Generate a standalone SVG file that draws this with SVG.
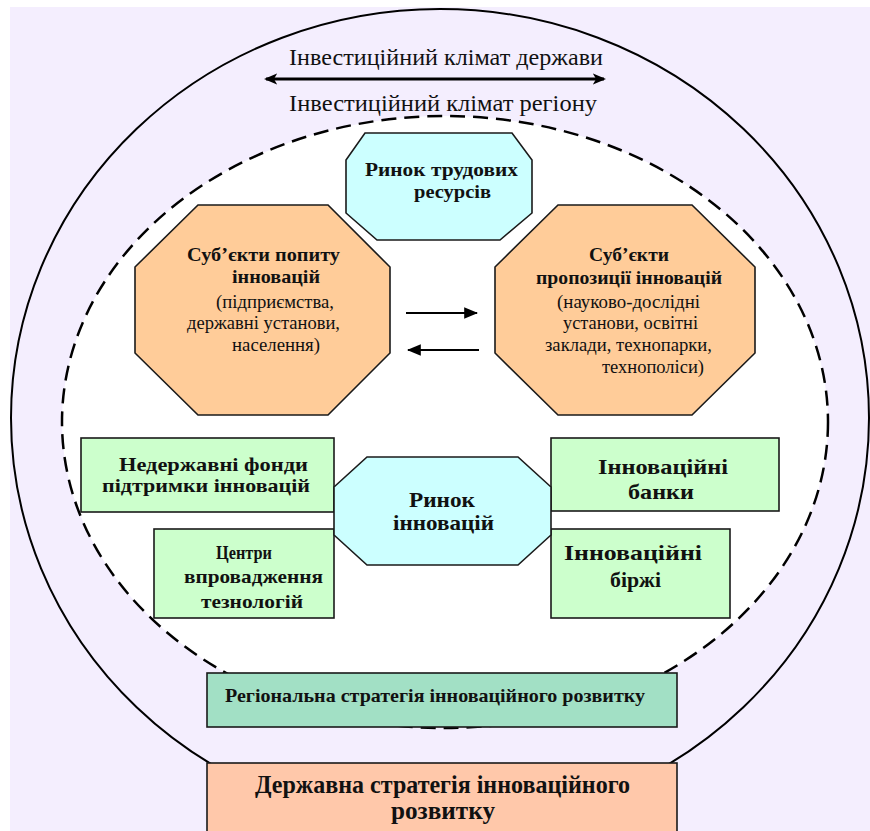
<svg xmlns="http://www.w3.org/2000/svg" width="870" height="831" viewBox="0 0 870 831">
<defs>
<style>
.t{font-family:"Liberation Serif","Times New Roman","DejaVu Serif",serif;fill:#111}
.b{font-weight:bold}
.box{stroke:#1a1a1a;stroke-width:1.6}
.orange{fill:#FFCC99}
.cyan{fill:#CCFFFF}
.green{fill:#CCFFCC}
</style>
<marker id="ah" viewBox="0 0 12 10" refX="10" refY="5" markerWidth="4.5" markerHeight="4.5" orient="auto-start-reverse" markerUnits="strokeWidth">
<path d="M0,0 L12,5 L0,10 L3,5 z" fill="#000"/>
</marker>
<marker id="ah2" viewBox="0 0 12 10" refX="11" refY="5" markerWidth="7" markerHeight="6" orient="auto" markerUnits="strokeWidth">
<path d="M0,0 L12,5 L0,10 z" fill="#000"/>
</marker>
</defs>
<rect x="0" y="0" width="870" height="831" fill="#fff"/>
<rect x="10" y="7" width="860" height="824" fill="#F4EEFE"/>
<g id="climate-state">
<ellipse cx="440" cy="418" rx="429" ry="409" fill="none" stroke="#000" stroke-width="2"/>
<text class="t" x="289" y="65" font-size="23" textLength="314" lengthAdjust="spacingAndGlyphs">Інвестиційний клімат держави</text>
</g>
<g id="climate-region">
<ellipse cx="445" cy="422" rx="383" ry="306" fill="#fff" stroke="#000" stroke-width="2.5" stroke-dasharray="15 8"/>
<text class="t" x="289" y="111" font-size="23" textLength="308" lengthAdjust="spacingAndGlyphs">Інвестиційний клімат регіону</text>
</g>
<g id="labour-market">
<polygon class="box cyan" points="365,133 512,133 532,160 532,213 500,240 377,240 346,213 346,160"/>
<text class="t b" x="365" y="176" font-size="19" textLength="153" lengthAdjust="spacingAndGlyphs">Ринок трудових</text>
<text class="t b" x="414" y="198" font-size="19" textLength="77" lengthAdjust="spacingAndGlyphs">ресурсів</text>
</g>
<g id="demand">
<polygon class="box orange" points="198,205 328,205 390,267 390,353 328,415 198,415 135,353 135,267"/>
<text class="t b" x="187" y="261" font-size="19" textLength="153" lengthAdjust="spacingAndGlyphs">Суб’єкти попиту</text>
<text class="t b" x="232" y="283" font-size="19" textLength="88" lengthAdjust="spacingAndGlyphs">інновацій</text>
<text class="t" x="216" y="308" font-size="19" textLength="118" lengthAdjust="spacingAndGlyphs">(підприємства,</text>
<text class="t" x="187" y="329" font-size="19" textLength="153" lengthAdjust="spacingAndGlyphs">державні установи,</text>
<text class="t" x="232" y="351" font-size="19" textLength="88" lengthAdjust="spacingAndGlyphs">населення)</text>
</g>
<g id="supply">
<polygon class="box orange" points="558,205 692,205 755,267 755,353 692,415 558,415 495,353 495,267"/>
<text class="t b" x="589" y="261" font-size="19" textLength="80" lengthAdjust="spacingAndGlyphs">Суб’єкти</text>
<text class="t b" x="536" y="284" font-size="19" textLength="186" lengthAdjust="spacingAndGlyphs">пропозиції інновацій</text>
<text class="t" x="557" y="308" font-size="19" textLength="143" lengthAdjust="spacingAndGlyphs">(науково-дослідні</text>
<text class="t" x="563" y="329" font-size="19" textLength="135" lengthAdjust="spacingAndGlyphs">установи, освітні</text>
<text class="t" x="545" y="351" font-size="19" textLength="167" lengthAdjust="spacingAndGlyphs">заклади, технопарки,</text>
<text class="t" x="602" y="373" font-size="19" textLength="102" lengthAdjust="spacingAndGlyphs">технополіси)</text>
</g>
<g id="funds">
<rect class="box green" x="81" y="438" width="253" height="74"/>
<text class="t b" x="119" y="471" font-size="19" textLength="189" lengthAdjust="spacingAndGlyphs">Недержавні фонди</text>
<text class="t b" x="102" y="492" font-size="19" textLength="208" lengthAdjust="spacingAndGlyphs">підтримки інновацій</text>
</g>
<g id="centres">
<rect class="box green" x="154" y="529" width="180" height="89"/>
<text class="t b" x="216" y="559" font-size="19" textLength="56" lengthAdjust="spacingAndGlyphs">Центри</text>
<text class="t b" x="184" y="583" font-size="19" textLength="139" lengthAdjust="spacingAndGlyphs">впровадження</text>
<text class="t b" x="201" y="608" font-size="19" textLength="102" lengthAdjust="spacingAndGlyphs">тезнологій</text>
</g>
<g id="banks">
<rect class="box green" x="551" y="438" width="228" height="73"/>
<text class="t b" x="598" y="474" font-size="22" textLength="130" lengthAdjust="spacingAndGlyphs">Інноваційні</text>
<text class="t b" x="628" y="499" font-size="22" textLength="66" lengthAdjust="spacingAndGlyphs">банки</text>
</g>
<g id="exchanges">
<rect class="box green" x="551" y="529" width="179" height="89"/>
<text class="t b" x="564" y="560" font-size="22" textLength="138" lengthAdjust="spacingAndGlyphs">Інноваційні</text>
<text class="t b" x="610" y="587" font-size="22" textLength="51" lengthAdjust="spacingAndGlyphs">біржі</text>
</g>
<g id="innovation-market">
<polygon class="box cyan" points="367,457 518,457 551,487 551,535 518,565 367,565 334,535 334,487"/>
<text class="t b" x="409" y="507" font-size="22" textLength="66" lengthAdjust="spacingAndGlyphs">Ринок</text>
<text class="t b" x="393" y="530" font-size="22" textLength="101" lengthAdjust="spacingAndGlyphs">інновацій</text>
</g>
<g id="regional-strategy">
<rect class="box" x="207" y="673" width="470" height="54" fill="#A2E0C5"/>
<text class="t b" x="225" y="702" font-size="19" textLength="420" lengthAdjust="spacingAndGlyphs">Регіональна стратегія інноваційного розвитку</text>
</g>
<g id="state-strategy">
<rect class="box" x="207" y="763" width="470" height="80" fill="#FFC8AA"/>
<text class="t b" x="255" y="793" font-size="25" textLength="375" lengthAdjust="spacingAndGlyphs">Державна стратегія інноваційного</text>
<text class="t b" x="391" y="819" font-size="25" textLength="104" lengthAdjust="spacingAndGlyphs">розвитку</text>
</g>
<g id="connectors" stroke="#000" fill="none">
<line x1="266" y1="79" x2="604" y2="79" stroke-width="3" marker-start="url(#ah)" marker-end="url(#ah)"/>
<line x1="406" y1="313" x2="477" y2="313" stroke-width="2" marker-end="url(#ah2)"/>
<line x1="479" y1="350" x2="408" y2="350" stroke-width="2" marker-end="url(#ah2)"/>
</g>
</svg>
